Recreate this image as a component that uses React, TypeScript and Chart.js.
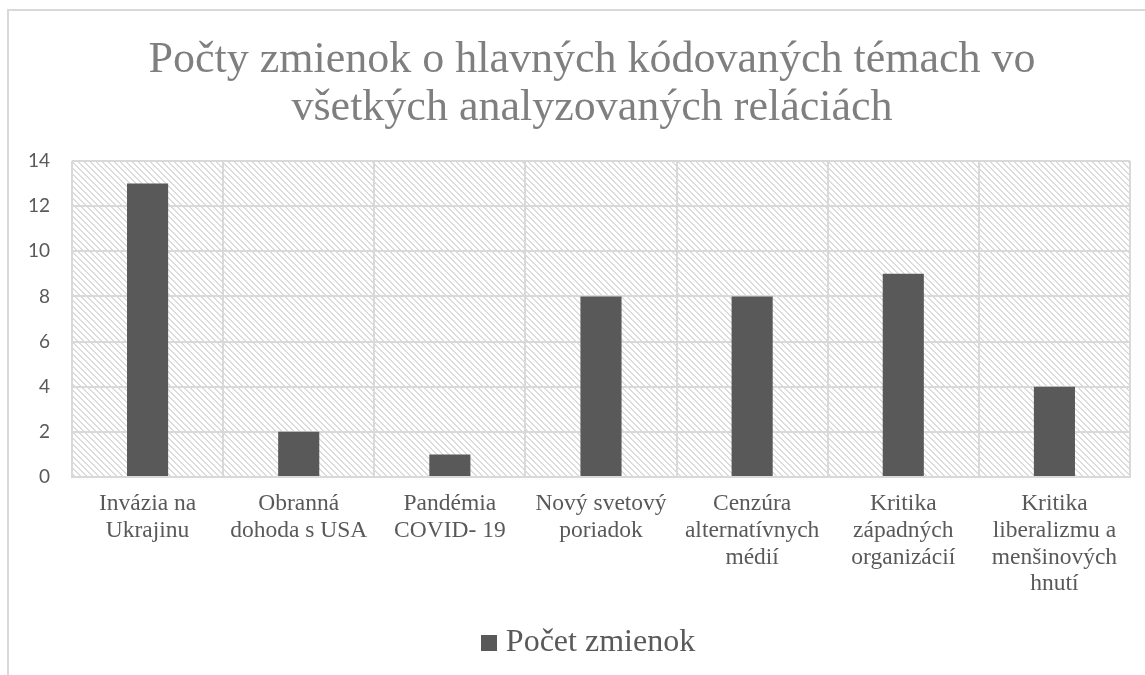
import React, { useEffect, useRef } from "react";
import { Chart, registerables } from "chart.js";

Chart.register(...registerables);

const categories: string[][] = [
  ["Invázia na", "Ukrajinu"],
  ["Obranná", "dohoda s USA"],
  ["Pandémia", "COVID- 19"],
  ["Nový svetový", "poriadok"],
  ["Cenzúra", "alternatívnych", "médií"],
  ["Kritika", "západných", "organizácií"],
  ["Kritika", "liberalizmu a", "menšinových", "hnutí"],
];
const seriesName = "Počet zmienok";
const values: number[] = [13, 2, 1, 8, 8, 9, 4];
const yTickLabels: string[] = ["0", "2", "4", "6", "8", "10", "12", "14"];
const titleLines: string[] = [
  "Počty zmienok o hlavných kódovaných témach vo",
  "všetkých analyzovaných reláciách",
];

const BAR_COLOR = "#595959";
const Y_FONT = "Lato, 'Liberation Sans', sans-serif";
const Y_SIZE = 19;

function makePattern(ctx: CanvasRenderingContext2D): CanvasPattern | string {
  const c = document.createElement("canvas");
  const n = 6;
  c.width = n;
  c.height = n;
  const g = c.getContext("2d");
  if (!g) return "#ffffff";
  g.fillStyle = "#ffffff";
  g.fillRect(0, 0, n, n);
  g.fillStyle = "#dcdcdc";
  for (let i = 0; i < n; i++) {
    g.fillRect(i, i, 1, 1);
    g.fillRect((i + 1) % n, i, 1, 1);
  }
  return ctx.createPattern(c, "repeat") || "#ffffff";
}

function makeLegendSquare(): HTMLCanvasElement {
  const c = document.createElement("canvas");
  c.width = 16;
  c.height = 16;
  const g = c.getContext("2d");
  if (g) {
    g.fillStyle = BAR_COLOR;
    g.fillRect(0, 0, 16, 16);
  }
  return c;
}

function widestYLabel(): number {
  const c = document.createElement("canvas");
  const g = c.getContext("2d");
  if (!g) return 20;
  g.font = `${Y_SIZE}px ${Y_FONT}`;
  return Math.max(...yTickLabels.map((t) => g.measureText(t).width));
}

const bgPlugin = {
  id: "hatchBg",
  beforeDraw(chart: any) {
    const { ctx, chartArea } = chart;
    ctx.save();
    ctx.fillStyle = "#ffffff";
    ctx.fillRect(0, 0, chart.width, chart.height);
    ctx.fillStyle = makePattern(ctx);
    ctx.fillRect(
      chartArea.left,
      chartArea.top,
      chartArea.right - chartArea.left,
      chartArea.bottom - chartArea.top
    );
    ctx.strokeStyle = "#d9d9d9";
    ctx.lineWidth = 2;
    ctx.beginPath();
    ctx.moveTo(8, chart.height);
    ctx.lineTo(8, 10);
    ctx.lineTo(chart.width, 10);
    ctx.stroke();
    ctx.restore();
  },
};

export default function App() {
  const ref = useRef<HTMLCanvasElement | null>(null);
  useEffect(() => {
    document.body.style.margin = "0";
    if (!ref.current) return;
    const widest = widestYLabel();
    const chart = new Chart(ref.current, {
      type: "bar",
      data: {
        labels: categories as any,
        datasets: [
          {
            label: seriesName,
            data: values,
            backgroundColor: BAR_COLOR,
            barPercentage: 0.272,
            categoryPercentage: 1,
          },
        ],
      },
      options: {
        responsive: false,
        animation: false,
        layout: { padding: { left: 54, right: 15, top: 0, bottom: 6 } },
        scales: {
          x: {
            grid: { color: "#d9d9d9", lineWidth: 2, drawTicks: false, offset: true },
            border: { color: "#d9d9d9", width: 2 },
            ticks: {
              color: "#595959",
              padding: 14,
              maxRotation: 0,
              autoSkip: false,
              font: { family: "'Liberation Serif', serif", size: 23.5, lineHeight: 1.13 },
            },
            afterFit: (axis: any) => {
              axis.height = 140;
            },
          },
          y: {
            min: 0,
            max: 14,
            ticks: {
              stepSize: 2,
              color: "#595959",
              mirror: true,
              crossAlign: "far",
              padding: -(22 + widest),
              font: { family: Y_FONT, size: Y_SIZE },
              callback: (_v: any, i: number) => yTickLabels[i],
            },
            grid: { color: "#d9d9d9", lineWidth: 2, drawTicks: false },
            border: { display: false },
            afterFit: (axis: any) => {
              axis.width = 18;
            },
          },
        },
        plugins: {
          title: {
            display: true,
            text: titleLines,
            color: "#7f7f7f",
            font: { family: "'Liberation Serif', serif", size: 44, weight: "normal", lineHeight: 1.09 },
            padding: { top: 36, bottom: 29 },
          },
          legend: {
            display: true,
            position: "bottom",
            labels: {
              color: "#595959",
              usePointStyle: true,
              pointStyle: makeLegendSquare() as any,
              pointStyleWidth: 1,
              boxHeight: 16,
              padding: 10,
              font: { family: "'Liberation Serif', serif", size: 32 },
            },
          },
          tooltip: { enabled: false },
        },
      },
      plugins: [bgPlugin],
    });
    return () => chart.destroy();
  }, []);
  return (
    <div style={{ position: "absolute", left: 0, top: 0, width: 1145, height: 675 }}>
      <canvas ref={ref} width={1145} height={675} style={{ width: 1145, height: 675 }} />
    </div>
  );
}
